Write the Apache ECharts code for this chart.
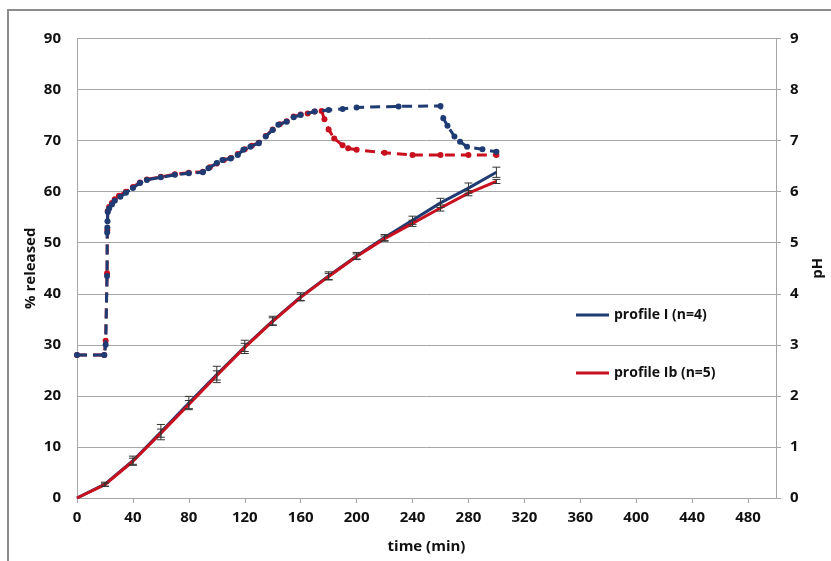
<!DOCTYPE html>
<html>
<head>
<meta charset="utf-8">
<script src="https://cdn.jsdelivr.net/npm/echarts@6/dist/echarts.min.js"></script>
<style>
  html, body { margin: 0; padding: 0; background: #fff; }
  #chart { width: 831px; height: 561px; }
</style>
</head>
<body>
<div id="chart"></div>
<script>
// release profiles (left axis)
var releaseTimes = [0, 20, 40, 60, 80, 100, 120, 140, 160, 180, 200, 220, 240, 260, 280, 300];
var releaseI  = [0, 2.7, 7.3, 12.9, 18.6, 24.2, 29.6, 34.7, 39.4, 43.5, 47.4, 51.0, 54.4, 57.8, 60.7, 63.8];
var errI      = [0, 0.4, 0.9, 1.5, 1.3, 1.6, 1.3, 0.9, 0.8, 0.8, 0.7, 0.6, 0.8, 0.9, 1.0, 1.0];
var releaseIb = [0, 2.6, 7.2, 12.7, 18.3, 24.0, 29.5, 34.6, 39.3, 43.4, 47.3, 50.8, 53.8, 56.8, 59.7, 62.0];
var errIb     = [0, 0.3, 0.6, 0.8, 0.8, 0.9, 0.8, 0.7, 0.6, 0.6, 0.5, 0.5, 0.6, 0.6, 0.5, 0.4];

// pH profiles (right axis)
var phTimeI = [0, 19.5, 20.5, 21.5, 21.6, 21.7, 21.8, 22, 23, 25, 27, 31, 35, 40, 45, 50, 60, 70, 80, 90,
               94, 100, 104, 110, 115, 119, 124, 130, 135, 140, 144, 150, 155, 160, 170, 180, 190, 200,
               230, 260, 262, 265, 270, 274, 279, 290, 300];
var phI     = [2.8, 2.8, 3.0, 4.35, 5.2, 5.3, 5.42, 5.6, 5.67, 5.75, 5.82, 5.9, 5.98, 6.07, 6.17, 6.23, 6.28, 6.33, 6.36, 6.38,
               6.46, 6.56, 6.62, 6.65, 6.72, 6.82, 6.88, 6.95, 7.08, 7.21, 7.31, 7.37, 7.46, 7.5, 7.57, 7.6, 7.62, 7.65,
               7.67, 7.68, 7.44, 7.29, 7.08, 6.98, 6.88, 6.83, 6.78];
var phTimeIb = [0, 19.5, 20.5, 21.5, 21.7, 22, 23, 25, 27, 30, 35, 40, 45, 50, 60, 70, 80, 90,
                95, 100, 105, 110, 115, 120, 125, 130, 135, 140, 145, 150, 155, 160, 165, 170, 175,
                177, 180, 184, 190, 194, 200, 220, 240, 260, 280, 300];
var phIb     = [2.8, 2.8, 3.08, 4.4, 5.25, 5.62, 5.7, 5.78, 5.85, 5.92, 6.0, 6.09, 6.18, 6.24, 6.29, 6.34, 6.37, 6.39,
                6.48, 6.55, 6.62, 6.66, 6.74, 6.83, 6.9, 6.96, 7.09, 7.22, 7.32, 7.38, 7.47, 7.51, 7.53, 7.57, 7.58,
                7.42, 7.22, 7.04, 6.91, 6.85, 6.82, 6.76, 6.72, 6.72, 6.72, 6.72];

var BLUE = '#1f3b73';
var RED = '#c8101e';
var GRAY = '#a6a6a6';
var FONT = 'Open Sans';

function pairs(xs, ys) {
  return xs.map(function (x, i) { return [x, ys[i]]; });
}
function errData(xs, ys, es) {
  return xs.map(function (x, i) { return [x, ys[i] - es[i], ys[i] + es[i]]; });
}

function renderErr(params, api) {
  var x = api.value(0);
  var lo = api.coord([x, api.value(1)]);
  var hi = api.coord([x, api.value(2)]);
  if (Math.abs(lo[1] - hi[1]) < 0.5) return null;
  var w = 4;
  var st = { stroke: '#333', lineWidth: 1 };
  return {
    type: 'group',
    children: [
      { type: 'line', shape: { x1: lo[0], y1: lo[1], x2: hi[0], y2: hi[1] }, style: st },
      { type: 'line', shape: { x1: lo[0] - w, y1: lo[1], x2: lo[0] + w, y2: lo[1] }, style: st },
      { type: 'line', shape: { x1: hi[0] - w, y1: hi[1], x2: hi[0] + w, y2: hi[1] }, style: st }
    ]
  };
}

var chart = echarts.init(document.getElementById('chart'));
chart.setOption({
  backgroundColor: '#fff',
  animation: false,
  textStyle: { fontFamily: FONT },
  graphic: [{
    type: 'rect',
    shape: { x: 8, y: 10, width: 900, height: 700 },
    style: { fill: 'none', stroke: '#8c8c8c', lineWidth: 2 },
    silent: true
  }],
  grid: { left: 77, right: 55, top: 38.5, bottom: 63, containLabel: false, outerBoundsMode: 'none' },
  legend: {
    data: ['profile I (n=4)', 'profile Ib (n=5)'],
    orient: 'vertical',
    left: 571,
    top: 303,
    itemGap: 44,
    itemWidth: 33,
    itemHeight: 3,
    icon: 'rect',
    textStyle: { fontFamily: FONT, fontWeight: 'bold', fontSize: 14, color: '#111' }
  },
  xAxis: {
    type: 'value',
    min: 0,
    max: 500,
    interval: 40,
    name: 'time (min)',
    nameLocation: 'middle',
    nameGap: 41,
    nameTextStyle: { fontFamily: FONT, fontWeight: 'bold', fontSize: 15, color: '#111' },
    axisLine: { show: true, lineStyle: { color: GRAY, width: 1 } },
    axisTick: { show: true, length: 5, lineStyle: { color: GRAY } },
    axisLabel: { showMaxLabel: false, margin: 12, fontFamily: FONT, fontWeight: 'bold', fontSize: 15, color: '#111' },
    splitLine: { show: false }
  },
  yAxis: [{
    type: 'value',
    min: 0,
    max: 90,
    interval: 10,
    name: '% released',
    nameLocation: 'middle',
    nameRotate: 90,
    nameGap: 39,
    nameMoveOverlap: false,
    nameTextStyle: { fontFamily: FONT, fontWeight: 'bold', fontSize: 15, color: '#111' },
    axisLine: { show: true, lineStyle: { color: GRAY, width: 1 } },
    axisTick: { show: false },
    axisLabel: { margin: 16, fontFamily: FONT, fontWeight: 'bold', fontSize: 15, color: '#111' },
    splitLine: { show: true, lineStyle: { color: GRAY, width: 1 } }
  }, {
    type: 'value',
    position: 'right',
    min: 0,
    max: 9,
    interval: 1,
    name: 'pH',
    nameLocation: 'middle',
    nameRotate: 90,
    nameGap: 34,
    nameTextStyle: { fontFamily: FONT, fontWeight: 'bold', fontSize: 15, color: '#111' },
    axisLine: { show: true, lineStyle: { color: GRAY, width: 1 } },
    axisTick: { show: true, length: 5, lineStyle: { color: GRAY } },
    axisLabel: { margin: 14, fontFamily: FONT, fontWeight: 'bold', fontSize: 15, color: '#111' },
    splitLine: { show: false }
  }],
  series: [
    {
      name: 'pH Ib',
      type: 'line',
      yAxisIndex: 1,
      data: pairs(phTimeIb, phIb),
      symbol: 'circle',
      symbolSize: 6,
      color: RED,
      lineStyle: { color: RED, width: 3, type: [10, 6] },
      itemStyle: { color: RED },
      z: 2
    },
    {
      name: 'pH I',
      type: 'line',
      yAxisIndex: 1,
      data: pairs(phTimeI, phI),
      symbol: 'circle',
      symbolSize: 6,
      color: BLUE,
      lineStyle: { color: BLUE, width: 3, type: [10, 6] },
      itemStyle: { color: BLUE },
      z: 3
    },
    {
      name: 'profile I (n=4)',
      type: 'line',
      data: pairs(releaseTimes, releaseI),
      showSymbol: false,
      symbol: 'none',
      color: BLUE,
      lineStyle: { color: BLUE, width: 3 },
      z: 4
    },
    {
      name: 'profile Ib (n=5)',
      type: 'line',
      data: pairs(releaseTimes, releaseIb),
      showSymbol: false,
      symbol: 'none',
      color: RED,
      lineStyle: { color: RED, width: 3 },
      z: 5
    },
    {
      name: 'err I',
      type: 'custom',
      renderItem: renderErr,
      data: errData(releaseTimes, releaseI, errI),
      encode: { x: 0, y: [1, 2] },
      z: 6
    },
    {
      name: 'err Ib',
      type: 'custom',
      renderItem: renderErr,
      data: errData(releaseTimes, releaseIb, errIb),
      encode: { x: 0, y: [1, 2] },
      z: 6
    }
  ]
});
</script>
</body>
</html>
